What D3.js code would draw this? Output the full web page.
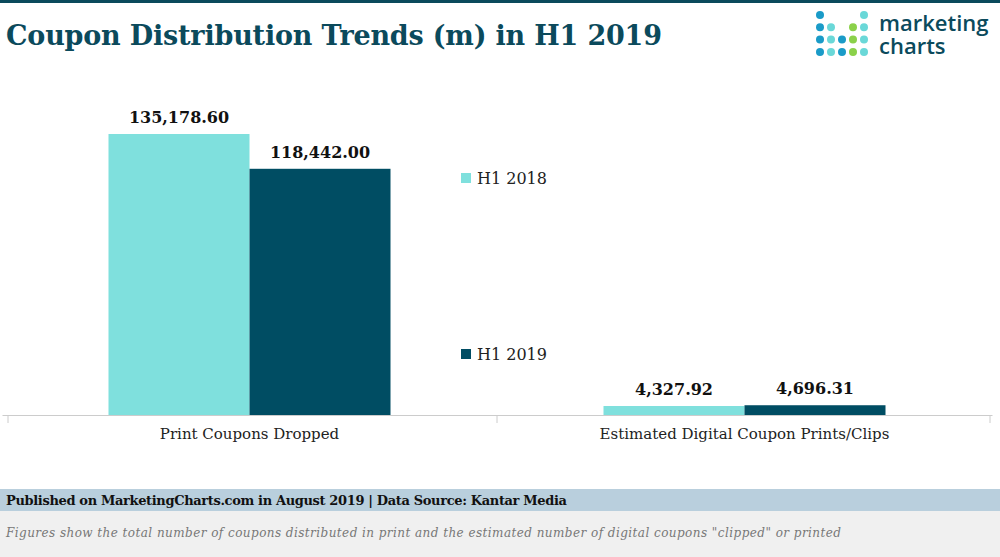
<!DOCTYPE html>
<html><head><meta charset="utf-8">
<script src="https://cdn.jsdelivr.net/npm/d3@7"></script>
<style>body{margin:0;background:#fff}text{font-family:"DejaVu Serif",serif}text.logo{font-family:"Open Sans",sans-serif}</style>
</head><body>
<svg id="c" width="1000" height="557"></svg>
<script>
const categories = ["Print Coupons Dropped", "Estimated Digital Coupon Prints/Clips"];
const seriesNames = ["H1 2018", "H1 2019"];
const h12018 = [135178.60, 4327.92];
const h12019 = [118442.00, 4696.31];
const colors = ["#7fe0dd", "#004d63"];

const svg = d3.select("#c");
svg.append("rect").attr("width", 1000).attr("height", 3).attr("fill", "#0b4a5c");
svg.append("text").attr("x", 6).attr("y", 45).attr("font-size", 27).attr("font-weight", 700)
  .attr("fill", "#0b4a5c").attr("textLength", 656).text("Coupon Distribution Trends (m) in H1 2019");

// logo
const dots = [[0,"#1a9bc8"],[1,"#1a9bc8"],[2,"#1a9bc8"],[3,"#1a9bc8"],
  [5,"#6ad8d8"],[6,"#6ad8d8"],[7,"#6ad8d8"],
  [10,"#1a9bc8"],[11,"#1a9bc8"],
  [13,"#8bd14a"],[14,"#8bd14a"],[15,"#8bd14a"],
  [16,"#6ad8d8"],[17,"#6ad8d8"],[18,"#6ad8d8"],[19,"#6ad8d8"]];
const lg = svg.append("g");
dots.forEach(([i, c]) => {
  const col = Math.floor(i / 4), row = i % 4;
  lg.append("circle").attr("cx", 820 + col * 11).attr("cy", 15 + row * 12.3).attr("r", 4).attr("fill", c);
});
lg.append("text").attr("class", "logo").attr("x", 879).attr("y", 31).attr("font-size", 22).attr("font-weight", 600)
  .attr("fill", "#0b4a5c").text("marketing");
lg.append("text").attr("class", "logo").attr("x", 879).attr("y", 54).attr("font-size", 22).attr("font-weight", 600)
  .attr("fill", "#0b4a5c").text("charts");

const x = d3.scaleBand().domain(categories).range([2, 992]).paddingInner(0).paddingOuter(0);
const y = d3.scaleLinear().domain([0, 135178.6]).range([415, 134]);
const bw = 141;

const data = categories.map((c, i) => ({c, v: [h12018[i], h12019[i]]}));
const g = svg.append("g");
data.forEach(d => {
  d.v.forEach((v, j) => {
    const x0 = x(d.c) + x.bandwidth() / 2 - bw + j * bw;
    g.append("rect").attr("x", x0).attr("y", y(v)).attr("width", bw)
      .attr("height", y(0) - y(v)).attr("fill", colors[j]);
    g.append("text").attr("x", x0 + bw / 2).attr("y", y(v) - 11).attr("text-anchor", "middle")
      .attr("font-size", 16).attr("font-weight", 700).attr("fill", "#111")
      .text(d3.format(",.2f")(v));
  });
});

const ax = svg.append("g").attr("transform", "translate(0,415)")
  .call(d3.axisBottom(x).tickSize(0).tickPadding(13));
ax.select(".domain").attr("stroke", "#ccc");
ax.selectAll(".tick text").attr("font-size", 15).attr("fill", "#222").attr("font-family", "DejaVu Serif");
[8, 497, 990].forEach(t => svg.append("line").attr("x1", t).attr("x2", t).attr("y1", 415).attr("y2", 423).attr("stroke", "#ccc"));

// legend
seriesNames.forEach((s, i) => {
  const ly = i ? 354 : 178;
  svg.append("rect").attr("x", 461).attr("y", ly - 5).attr("width", 10).attr("height", 10).attr("fill", colors[i]);
  svg.append("text").attr("x", 477).attr("y", ly + 6).attr("font-size", 16).attr("fill", "#222").text(s);
});

// footer
svg.append("rect").attr("x", 0).attr("y", 489).attr("width", 1000).attr("height", 22).attr("fill", "#b9cfdd");
svg.append("text").attr("x", 6).attr("y", 505).attr("font-size", 13).attr("font-weight", 700).attr("fill", "#111")
  .attr("textLength", 561).text("Published on MarketingCharts.com in August 2019 | Data Source: Kantar Media");
svg.append("rect").attr("x", 0).attr("y", 511).attr("width", 1000).attr("height", 46).attr("fill", "#f0f0f0");
svg.append("text").attr("x", 6).attr("y", 537).attr("font-size", 12).attr("font-style", "italic").attr("fill", "#777")
  .attr("textLength", 835)
  .text("Figures show the total number of coupons distributed in print and the estimated number of digital coupons \"clipped\" or printed");
</script></body></html>
